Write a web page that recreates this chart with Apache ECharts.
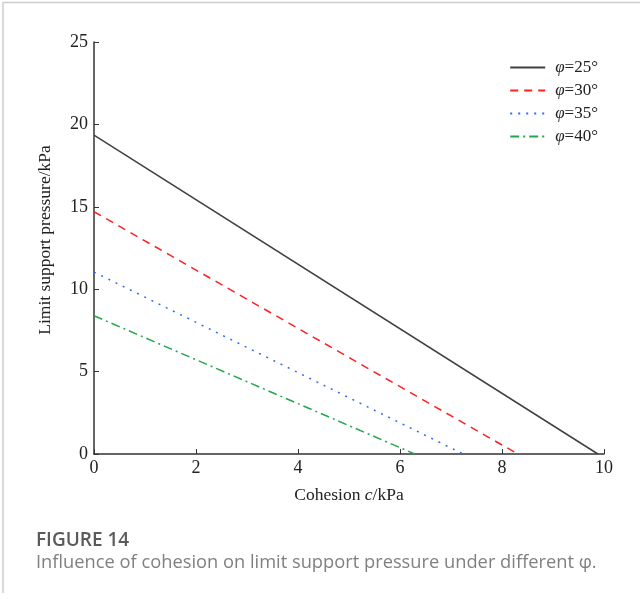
<!DOCTYPE html>
<html>
<head>
<meta charset="utf-8">
<script src="https://cdn.jsdelivr.net/npm/echarts@6/dist/echarts.min.js"></script>
<style>
html,body{margin:0;padding:0;background:#fff;}
#c{width:640px;height:599px;}
</style>
</head>
<body>
<div id="c"></div>
<script>
const seriesNames = ['φ=25°', 'φ=30°', 'φ=35°', 'φ=40°'];
const phi25 = [[0, 19.35], [9.88, 0]];
const phi30 = [[0, 14.7], [8.31, 0]];
const phi35 = [[0, 11.04], [7.24, 0]];
const phi40 = [[0, 8.39], [6.29, 0]];
const xTicks = [0, 2, 4, 6, 8, 10];
const yTicks = [0, 5, 10, 15, 20, 25];

const colors = ['#404040', '#ff2020', '#2a6ef0', '#22a84a'];
const dashes = ['solid', [8, 6], [2, 6], [9, 4, 2, 4]];
const datas = [phi25, phi30, phi35, phi40];

const chart = echarts.init(document.getElementById('c'));
const serif = '"Liberation Serif", "Times New Roman", serif';
chart.setOption({
  animation: false,
  grid: {left: 94, right: 36, top: 42, bottom: 145},
  legend: {
    orient: 'vertical',
    right: 37,
    top: 54,
    itemWidth: 35,
    itemHeight: 10,
    itemGap: 6,
    data: seriesNames,
    itemStyle: {opacity: 0},
    formatter: function (n) { return '{i|φ}' + n.slice(1); },
    textStyle: {
      fontFamily: serif, fontSize: 17, color: '#222', padding: [0, 0, 0, 5],
      rich: {i: {fontFamily: serif, fontStyle: 'italic', fontSize: 17, color: '#222'}}
    }
  },
  xAxis: {
    type: 'value', min: 0, max: 10, interval: 2,
    name: '{n|Cohesion }{i|c}{n|/kPa}',
    nameLocation: 'middle', nameGap: 32,
    nameTextStyle: {
      rich: {
        n: {fontFamily: serif, fontSize: 17.5, color: '#222'},
        i: {fontFamily: serif, fontSize: 17.5, fontStyle: 'italic', color: '#222'}
      }
    },
    axisLine: {show: true, lineStyle: {color: '#333', width: 1.5}},
    axisTick: {show: true, inside: true, length: 5, lineStyle: {color: '#333'}},
    axisLabel: {fontFamily: serif, fontSize: 18, color: '#222', margin: 5},
    splitLine: {show: false}
  },
  yAxis: {
    type: 'value', min: 0, max: 25, interval: 5,
    name: 'Limit support pressure/kPa',
    nameLocation: 'middle', nameGap: 40, nameRotate: 90,
    nameTextStyle: {fontFamily: serif, fontSize: 17.5, color: '#222', padding: [0, 0, 0, 16]},
    axisLine: {show: true, lineStyle: {color: '#333', width: 1.5}},
    axisTick: {show: true, inside: true, length: 5, lineStyle: {color: '#333'}},
    axisLabel: {fontFamily: serif, fontSize: 18, color: '#222', margin: 6},
    splitLine: {show: false}
  },
  series: seriesNames.map((n, i) => ({
    name: n,
    type: 'line',
    data: datas[i],
    symbol: 'none',
    lineStyle: {color: colors[i], width: 1.5, type: dashes[i]},
    itemStyle: {color: colors[i]}
  })),
  graphic: [
    {type: 'line', shape: {x1: 3, y1: 2.5, x2: 640, y2: 2.5}, style: {stroke: '#cccccc', lineWidth: 1.5}},
    {type: 'line', shape: {x1: 3, y1: 2, x2: 3, y2: 593}, style: {stroke: '#cccccc', lineWidth: 1.5}},
    {type: 'text', left: 36, top: 531, style: {text: 'FIGURE 14', font: '600 19px "Open Sans", "Noto Sans", sans-serif', fill: '#5a5a5a'}},
    {type: 'text', left: 36, top: 554, style: {text: 'Influence of cohesion on limit support pressure under different φ.', font: '18.3px "Open Sans", "Noto Sans", sans-serif', fill: '#808080'}}
  ]
});
</script>
</body>
</html>
